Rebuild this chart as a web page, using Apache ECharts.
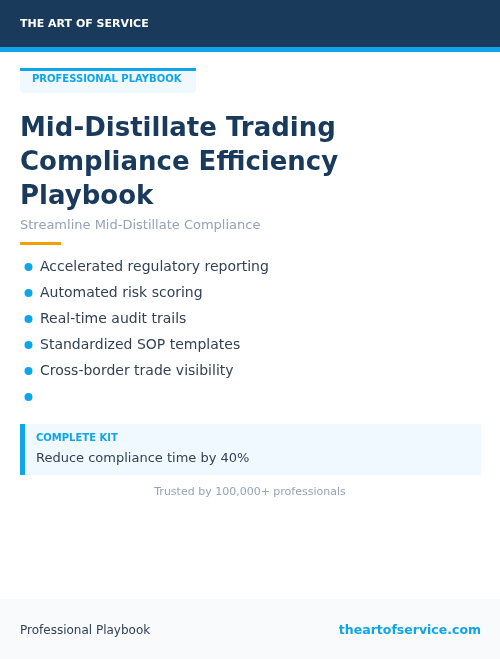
<!DOCTYPE html>
<html><head><meta charset="utf-8">
<script src="https://cdn.jsdelivr.net/npm/echarts@6/dist/echarts.min.js"></script>
<style>html,body{margin:0;padding:0;background:#fff}#c{width:500px;height:659px}</style>
</head><body><div id="c"></div>
<script>
const brand = "THE ART OF SERVICE";
const badge = "PROFESSIONAL PLAYBOOK";
const titleLines = ["Mid-Distillate Trading", "Compliance Efficiency", "Playbook"];
const subtitle = "Streamline Mid-Distillate Compliance";
const bullets = ["Accelerated regulatory reporting", "Automated risk scoring", "Real-time audit trails", "Standardized SOP templates", "Cross-border trade visibility", ""];
const kitLabel = "COMPLETE KIT";
const kitText = "Reduce compliance time by 40%";
const trust = "Trusted by 100,000+ professionals";
const footerLeft = "Professional Playbook";
const footerRight = "theartofservice.com";

const F = "DejaVu Sans";
const g = [];
const txt = (x, y, t, size, color, weight, align) => ({type:'text', x, y, style:{text:t, font:(weight||'normal')+' '+size+'px "'+F+'"', fill:color, textAlign:align||'left', textVerticalAlign:'middle'}});
g.push({type:'rect', shape:{x:0,y:0,width:500,height:47}, style:{fill:'#1a3a5c'}});
g.push({type:'rect', shape:{x:0,y:47,width:500,height:5}, style:{fill:'#0ea5e9'}});
g.push(txt(20, 24, brand, 11, '#ffffff', 'bold'));
g.push({type:'rect', shape:{x:20,y:68,width:176,height:25,r:[0,0,4,4]}, style:{fill:'#f0f9ff'}});
g.push({type:'rect', shape:{x:20,y:68,width:176,height:3}, style:{fill:'#0ea5e9'}});
g.push(txt(32, 79, badge, 10, '#0ea5e9', 'bold'));
titleLines.forEach((t,i)=>g.push(txt(20, 129+i*34, t, 26, '#1a3a5c', 'bold')));
g.push(txt(20, 226, subtitle, 13, '#94a3b8'));
g.push({type:'rect', shape:{x:20,y:242,width:41,height:3}, style:{fill:'#f59e0b'}});
bullets.forEach((b,i)=>{
  g.push({type:'circle', shape:{cx:28.5, cy:267+i*26, r:4}, style:{fill:'#0ea5e9'}});
  g.push(txt(40, 267+i*26, b, 14, '#334155'));
});
g.push({type:'rect', shape:{x:20,y:424,width:461,height:51}, style:{fill:'#f0f9ff'}});
g.push({type:'rect', shape:{x:20,y:424,width:5,height:51}, style:{fill:'#0ea5e9'}});
g.push(txt(36, 438, kitLabel, 10, '#0ea5e9', 'bold'));
g.push(txt(36, 459, kitText, 13, '#334155'));
g.push(txt(250, 492, trust, 11, '#94a3b8', 'normal', 'center'));
g.push({type:'rect', shape:{x:0,y:599,width:500,height:60}, style:{fill:'#f8fafc'}});
g.push(txt(20, 631, footerLeft, 12, '#334155'));
g.push(txt(481, 631, footerRight, 12.5, '#0ea5e9', 'bold', 'right'));

const chart = echarts.init(document.getElementById('c'));
chart.setOption({animation:false, backgroundColor:'#ffffff', graphic:g});
</script></body></html>
